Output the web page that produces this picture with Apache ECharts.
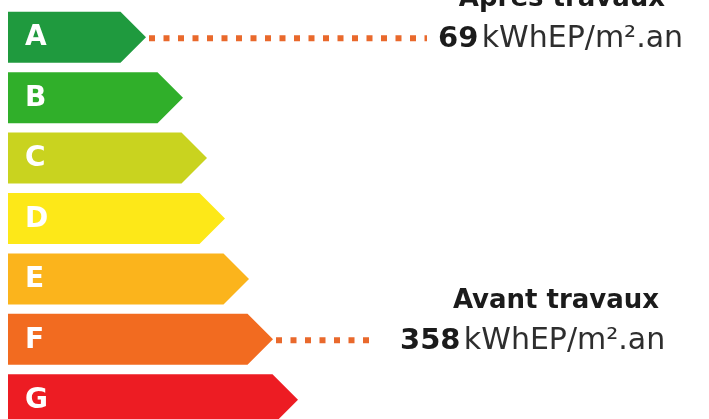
<!DOCTYPE html>
<html lang="fr">
<head>
<meta charset="UTF-8" />
<title>Étiquette énergie</title>
<style>
html, body { margin: 0; padding: 0; background: #fff; }
#main { width: 709px; height: 419px; }
</style>
</head>
<body>
<div id="main"></div>
<script src="https://cdn.jsdelivr.net/npm/echarts@6/dist/echarts.min.js"></script>
<script>
// classes du DPE
var classes = ['A', 'B', 'C', 'D', 'E', 'F', 'G'];
var couleurs = ['#1f9a3e', '#30af2a', '#c9d31f', '#fde818', '#fbb41c', '#f26b20', '#ed1c23'];
// longueur de chaque fleche, pointe comprise
var longueurs = [138, 175, 199, 217, 241, 265, 290];

// consommation avant / apres travaux
var titres = ['Après travaux', 'Avant travaux'];
var valeurs = [69, 358];
var classesAtteintes = ['A', 'F'];
var unite = 'kWhEP/m².an';

// mise en page des annotations (fin des pointilles, debut du texte, centre du titre)
var finPointilles = [427, 377];
var debutTexte = [438, 400];
var centreTitre = [562, 556];

var police = 'DejaVu Sans';
var orange = '#e9692c';

var myChart = echarts.init(document.getElementById('main'));

function dessinerFleche(params, api) {
	var i = api.value(1);
	var pointe = api.coord([api.value(0), i]);
	var debut = api.coord([0, i]);
	var demi = api.size([0, 1])[1] * 0.844 / 2;
	var y = pointe[1];
	return {
		type: 'group',
		children: [{
			type: 'polygon',
			shape: {
				points: [
					[debut[0], y - demi],
					[pointe[0] - demi, y - demi],
					[pointe[0], y],
					[pointe[0] - demi, y + demi],
					[debut[0], y + demi]
				]
			},
			style: { fill: couleurs[i] }
		}, {
			type: 'text',
			style: {
				text: classes[i],
				x: debut[0] + 17,
				y: y + 1,
				fill: '#fff',
				fontSize: 28,
				fontWeight: 'bold',
				fontFamily: police,
				align: 'left',
				verticalAlign: 'middle'
			}
		}]
	};
}

function dessinerAnnotation(params, api) {
	var k = params.dataIndex;
	var i = api.value(0);
	var pointe = api.coord([longueurs[i], i]);
	var y = pointe[1];
	return {
		type: 'group',
		children: [{
			type: 'line',
			shape: { x1: pointe[0] + 3, y1: y + 1, x2: finPointilles[k], y2: y + 1 },
			style: { stroke: orange, lineWidth: 6, lineDash: [6, 8.5], lineCap: 'butt' }
		}, {
			type: 'text',
			style: {
				text: '{b|' + api.value(1) + '} {n|' + unite + '}',
				x: debutTexte[k],
				y: y + 2,
				align: 'left',
				verticalAlign: 'middle',
				rich: {
					b: { fontSize: 29, fontWeight: 'bold', fontFamily: police, fill: '#1b1b1b' },
					n: { fontSize: 30, fontFamily: police, fill: '#2e2e2e' }
				}
			}
		}, {
			type: 'text',
			style: {
				text: titres[k],
				x: centreTitre[k],
				y: y - 38,
				align: 'center',
				verticalAlign: 'middle',
				fontSize: 26,
				fontWeight: 'bold',
				fontFamily: police,
				fill: '#1b1b1b'
			}
		}]
	};
}

var option = {
	animation: false,
	grid: { left: 8, right: 0, top: 7, height: 423, outerBoundsMode: 'none' },
	xAxis: { type: 'value', min: 0, max: 701, show: false },
	yAxis: { type: 'category', data: classes, inverse: true, show: false },
	series: [{
		type: 'custom',
		renderItem: dessinerFleche,
		clip: false,
		data: classes.map(function (c, i) { return [longueurs[i], i]; })
	}, {
		type: 'custom',
		renderItem: dessinerAnnotation,
		clip: false,
		data: valeurs.map(function (v, k) { return [classes.indexOf(classesAtteintes[k]), v]; })
	}]
};

myChart.setOption(option);
</script>
</body>
</html>
